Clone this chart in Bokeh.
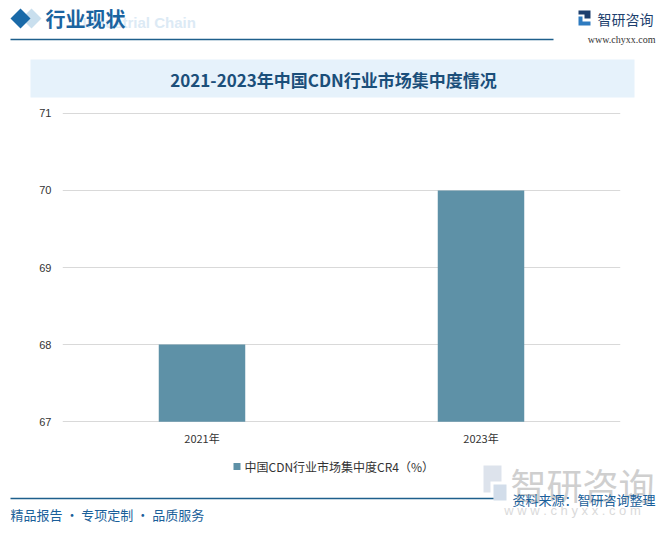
from bokeh.plotting import figure
from bokeh.layouts import column
from bokeh.models import Range1d, FactorRange, ColumnDataSource, FixedTicker
from bokeh.core.properties import value
from bokeh.embed import file_html
from bokeh.resources import INLINE

# ---- data ----
years = ["2021年", "2023年"]
cr4 = [68, 70]
series_name = "中国CDN行业市场集中度CR4（%）"
y_ticks = [67, 68, 69, 70, 71]
title_text = "2021-2023年中国CDN行业市场集中度情况"

W = 670
CJK = "Noto Sans CJK SC"
BAR = "#5E91A7"
HEAD_H = 104          # header canvas 0..104
CHART_TOP, CHART_BOT = 104, 455
FOOT_TOP, FOOT_BOT = 455, 533
FL, FR, FT, FB = 62, 620, 112, 422


def deco_fig(y0, y1):
    f = figure(width=W, height=y1 - y0, output_backend="svg", toolbar_location=None,
               x_range=Range1d(0, W), y_range=Range1d(y1, y0),
               x_axis_type=None, y_axis_type=None, min_border=0,
               min_border_left=0, min_border_right=0, min_border_top=0, min_border_bottom=0,
               frame_align=False)
    f.outline_line_color = None
    f.grid.visible = False
    f.background_fill_color = "white"
    f.border_fill_color = "white"
    return f


def txt(f, x, y, s, size, color, font=CJK, align="left", style="normal", baseline="middle"):
    f.text(x=[x], y=[y], text=[s], text_font=value(font), text_font_size=value(f"{size}px"),
           text_color=color, text_align=align, text_baseline=baseline,
           text_font_style=style)


# ================= header =================
h = deco_fig(0, HEAD_H)
h.patch([21, 31, 41, 31], [18, 8, 18, 28], fill_color="#C9DFEE", line_color=None)
h.patch([10, 20, 30, 20], [18, 8, 18, 28], fill_color="#1A6AA8", line_color=None)
txt(h, 82, 22, "Industrial Chain", 15, "#DCEAF5", font="Liberation Sans", style="bold")
txt(h, 45, 18, "行业现状", 20, "#1B64A0", style="bold")
h.segment(x0=[10], y0=[39], x1=[553], y1=[39], line_color="#1E5F8C", line_width=1.5)
# logo
h.patch([578, 590, 590, 584, 584, 578], [10, 10, 18, 18, 14, 14], fill_color="#1D3F6E", line_color=None)
h.patch([578, 582, 582, 590, 590, 578], [16, 16, 21, 21, 25, 25], fill_color="#2E7BC0", line_color=None)
txt(h, 597, 18, "智研咨询", 14, "#1D3F6E")
txt(h, 655, 39, "www.chyxx.com", 10, "#333333", font="Liberation Serif", align="right")
# title band
h.quad(left=[30], right=[634], top=[59], bottom=[97], fill_color="#E6F2FB", line_color=None)
txt(h, 333, 79, title_text, 17, "#1B4F7A", style="bold", align="center")

# ================= chart =================
p = figure(width=W, height=CHART_BOT - CHART_TOP, output_backend="svg", toolbar_location=None,
           x_range=FactorRange(*years), y_range=Range1d(66.99, 71.01),
           min_border_left=FL, min_border_right=W - FR,
           min_border_top=FT - CHART_TOP, min_border_bottom=CHART_BOT - FB,
           frame_align=False)
p.outline_line_color = None
p.background_fill_color = "white"
p.border_fill_color = "white"

src = ColumnDataSource(dict(x=years, top=cr4))
p.vbar(x="x", top="top", bottom=67, width=0.31, source=src,
       fill_color=BAR, line_color=None)

p.xgrid.grid_line_color = None
p.ygrid.grid_line_color = "#D9D9D9"
p.ygrid.ticker = FixedTicker(ticks=y_ticks)
p.yaxis.ticker = FixedTicker(ticks=y_ticks)
for ax in (p.xaxis[0], p.yaxis[0]):
    ax.axis_line_color = None
    ax.major_tick_line_color = None
    ax.minor_tick_line_color = None
    ax.major_tick_out = 0
    ax.major_tick_in = 0
    ax.minor_tick_out = 0
    ax.major_label_text_color = "#333333"
    ax.major_label_text_font_size = "11px"
p.xaxis.major_label_text_font = CJK
p.yaxis.major_label_text_font = "Liberation Sans"
p.yaxis.major_label_standoff = 11
p.xaxis.major_label_standoff = 7

# ================= footer =================
g = deco_fig(FOOT_TOP, FOOT_BOT)
# legend
g.quad(left=[233], right=[240], top=[462.5], bottom=[469.5], fill_color=BAR, line_color=None)
txt(g, 244, 466, series_name, 12, "#333333")
# watermark
g.patch([483, 501, 501, 490, 490, 483], [465, 465, 481, 481, 492, 492], fill_color="#DDE3EC", line_color=None)
g.patch([493, 506, 506, 493], [484, 484, 500, 500], fill_color="#D2DDEA", line_color=None)
txt(g, 582, 483, "智研咨询", 36, "#CFCFCF", align="center")
txt(g, 572, 510, "w w w . c h y x x . c o m", 13, "#DADADA", font="Liberation Sans", align="center")
# rule and texts
g.segment(x0=[10], y0=[498], x1=[493], y1=[498], line_color="#1E5F8C", line_width=1.5)
txt(g, 655, 499, "资料来源：智研咨询整理", 13, "#1A5F9A", align="right")
txt(g, 10, 514, "精品报告 · 专项定制 · 品质服务", 13, "#1A5F9A")

layout = column(h, p, g, spacing=0)
open("out.html", "w").write(file_html(layout, INLINE))
